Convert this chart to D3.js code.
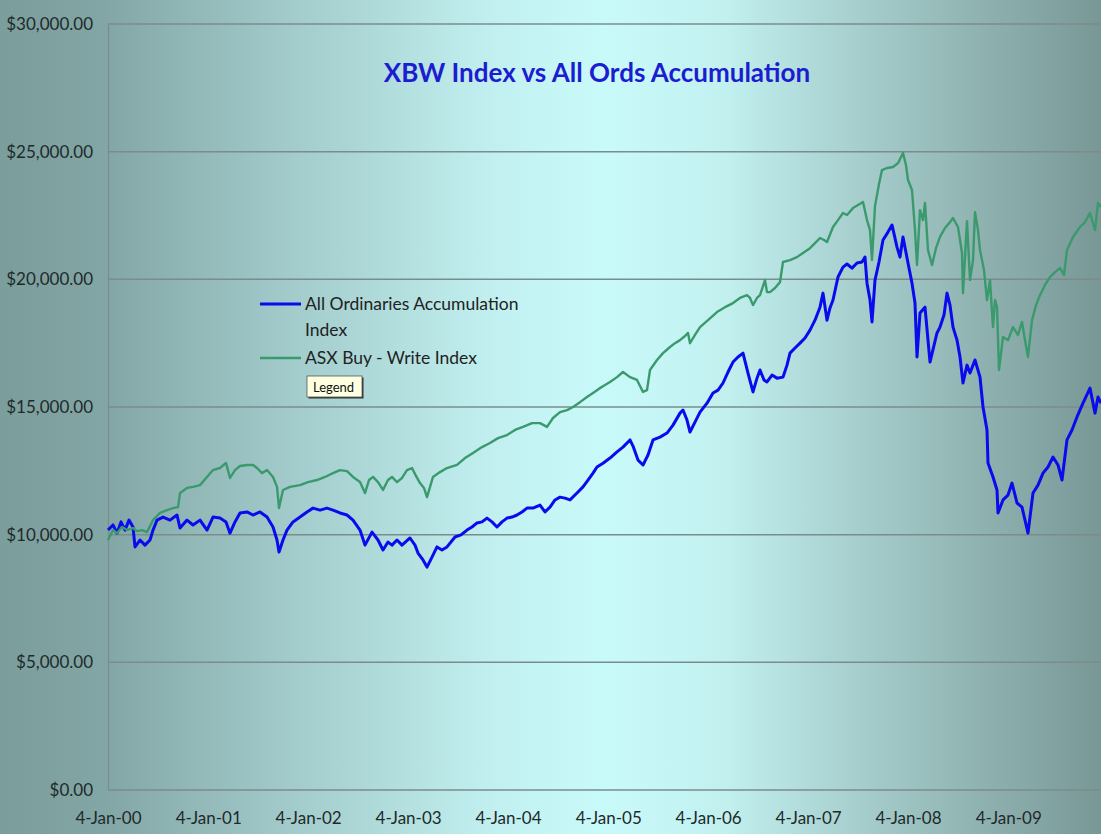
<!DOCTYPE html>
<html>
<head>
<meta charset="utf-8">
<script src="https://cdn.jsdelivr.net/npm/d3@7"></script>
<style>
  html, body { margin: 0; padding: 0; background: #9cc4c3; }
  svg { display: block; font-family: Lato, "Open Sans", sans-serif; }
</style>
</head>
<body>
<div id="chart"></div>
<script>
// decimal years, 0 = 4-Jan of that year
const ordsT = [
  2000.00, 2000.05, 2000.09, 2000.13, 2000.17, 2000.21, 2000.25, 2000.27, 2000.32, 2000.37,
  2000.42, 2000.45, 2000.49, 2000.55, 2000.62, 2000.69, 2000.72, 2000.79, 2000.85, 2000.92,
  2000.99, 2001.05, 2001.12, 2001.18, 2001.22, 2001.27, 2001.32, 2001.39, 2001.45, 2001.52,
  2001.59, 2001.65, 2001.69, 2001.71, 2001.75, 2001.79, 2001.85, 2001.92, 2001.99, 2002.05,
  2002.12, 2002.19, 2002.25, 2002.32, 2002.39, 2002.45, 2002.52, 2002.57, 2002.64, 2002.70,
  2002.75, 2002.80, 2002.84, 2002.89, 2002.94, 2003.02, 2003.07, 2003.10, 2003.15, 2003.19,
  2003.24, 2003.29, 2003.34, 2003.39, 2003.47, 2003.53, 2003.59, 2003.64, 2003.69, 2003.74,
  2003.79, 2003.84, 2003.89, 2003.94, 2003.99, 2004.04, 2004.09, 2004.14, 2004.19, 2004.25,
  2004.32, 2004.37, 2004.42, 2004.47, 2004.52, 2004.57, 2004.62, 2004.69, 2004.75, 2004.80,
  2004.85, 2004.89, 2004.95, 2005.02, 2005.09, 2005.15, 2005.22, 2005.25, 2005.30, 2005.35,
  2005.40, 2005.45, 2005.52, 2005.59, 2005.65, 2005.72, 2005.75, 2005.79, 2005.82, 2005.87,
  2005.92, 2005.99, 2006.05, 2006.10, 2006.15, 2006.20, 2006.25, 2006.30, 2006.35, 2006.40,
  2006.45, 2006.49, 2006.52, 2006.56, 2006.59, 2006.64, 2006.69, 2006.75, 2006.79, 2006.82,
  2006.87, 2006.92, 2006.97, 2007.02, 2007.07, 2007.12, 2007.15, 2007.19, 2007.22, 2007.25,
  2007.30, 2007.35, 2007.39, 2007.44, 2007.49, 2007.54, 2007.57, 2007.59, 2007.62, 2007.64,
  2007.67, 2007.71, 2007.75, 2007.80, 2007.84, 2007.89, 2007.92, 2007.95, 2008.00, 2008.04,
  2008.07, 2008.09, 2008.12, 2008.17, 2008.22, 2008.29, 2008.32, 2008.36, 2008.39, 2008.42,
  2008.45, 2008.49, 2008.52, 2008.55, 2008.59, 2008.62, 2008.67, 2008.72, 2008.75, 2008.79,
  2008.80, 2008.85, 2008.89, 2008.90, 2008.95, 2009.00, 2009.04, 2009.09, 2009.14, 2009.17,
  2009.20, 2009.25, 2009.30, 2009.35, 2009.40, 2009.45, 2009.50, 2009.54, 2009.59, 2009.64,
  2009.69, 2009.75, 2009.82, 2009.87, 2009.90, 2009.93
];
const ordsValues = [
  10180, 10380, 10060, 10500, 10180, 10570, 10300, 9520, 9790, 9590,
  9790, 10180, 10570, 10690, 10570, 10770, 10260, 10570, 10380, 10570,
  10180, 10690, 10650, 10500, 10060, 10500, 10850, 10890, 10770, 10890,
  10690, 10300, 9790, 9320, 9790, 10180, 10500, 10690, 10890, 11040,
  10960, 11040, 10960, 10850, 10770, 10570, 10180, 9590, 10100, 9790,
  9400, 9710, 9590, 9790, 9590, 9870, 9590, 9280, 9010, 8730,
  9120, 9520, 9400, 9520, 9910, 9990, 10180, 10300, 10460, 10500,
  10650, 10500, 10300, 10500, 10650, 10690, 10770, 10890, 11040, 11040,
  11160, 10890, 11080, 11360, 11470, 11430, 11360, 11630, 11870, 12140,
  12410, 12650, 12800, 13000, 13240, 13430, 13710, 13470, 12920, 12730,
  13120, 13710, 13820, 13980, 14290, 14760, 14880, 14490, 14020, 14410,
  14800, 15150, 15550, 15660, 15940, 16370, 16760, 16960, 17110, 16330,
  15590, 16130, 16450, 16060, 15980, 16250, 16130, 16170, 16640, 17110,
  17310, 17500, 17700, 18010, 18400, 18910, 19460, 18400, 18880, 19190,
  20090, 20480, 20600, 20440, 20640, 20680, 20870, 19850, 19190, 18330,
  19970, 20680, 21540, 21850, 22130, 21260, 20870, 21660, 20640, 19850,
  19070, 16960, 18680, 18910, 16760, 17900, 18130, 18600, 19460, 18990,
  18130, 17620, 16960, 15940, 16640, 16330, 16840, 16170, 15000, 14100,
  12810, 12260, 11750, 10850, 11360, 11550, 12020, 11240, 11080, 10570,
  10060, 11630, 11940, 12410, 12650, 13040, 12730, 12140, 13710, 14100,
  14610, 15150, 15740, 14760, 15390, 15150
];

const bwT = [
  2000.00, 2000.05, 2000.09, 2000.14, 2000.19, 2000.25, 2000.29, 2000.34, 2000.39, 2000.45,
  2000.52, 2000.59, 2000.65, 2000.70, 2000.72, 2000.79, 2000.85, 2000.92, 2000.99, 2001.05,
  2001.12, 2001.18, 2001.22, 2001.27, 2001.32, 2001.39, 2001.45, 2001.49, 2001.54, 2001.59,
  2001.65, 2001.69, 2001.71, 2001.75, 2001.82, 2001.92, 2002.00, 2002.09, 2002.17, 2002.25,
  2002.32, 2002.39, 2002.45, 2002.52, 2002.57, 2002.61, 2002.65, 2002.70, 2002.75, 2002.80,
  2002.84, 2002.89, 2002.94, 2002.99, 2003.04, 2003.08, 2003.12, 2003.16, 2003.19, 2003.25,
  2003.32, 2003.39, 2003.49, 2003.57, 2003.65, 2003.74, 2003.82, 2003.90, 2003.99, 2004.07,
  2004.15, 2004.24, 2004.32, 2004.39, 2004.45, 2004.52, 2004.59, 2004.65, 2004.72, 2004.79,
  2004.85, 2004.89, 2004.92, 2004.97, 2005.02, 2005.09, 2005.15, 2005.22, 2005.29, 2005.35,
  2005.39, 2005.42, 2005.49, 2005.55, 2005.62, 2005.67, 2005.72, 2005.77, 2005.80, 2005.82,
  2005.87, 2005.92, 2006.00, 2006.09, 2006.17, 2006.25, 2006.32, 2006.39, 2006.42, 2006.45,
  2006.49, 2006.52, 2006.57, 2006.59, 2006.62, 2006.67, 2006.72, 2006.75, 2006.82, 2006.89,
  2006.95, 2007.02, 2007.07, 2007.12, 2007.16, 2007.19, 2007.25, 2007.30, 2007.35, 2007.39,
  2007.45, 2007.50, 2007.55, 2007.59, 2007.62, 2007.64, 2007.67, 2007.71, 2007.74, 2007.79,
  2007.85, 2007.90, 2007.95, 2007.98, 2008.00, 2008.04, 2008.07, 2008.09, 2008.12, 2008.15,
  2008.17, 2008.20, 2008.24, 2008.28, 2008.32, 2008.37, 2008.42, 2008.45, 2008.50, 2008.54,
  2008.55, 2008.59, 2008.62, 2008.65, 2008.67, 2008.70, 2008.72, 2008.76, 2008.79, 2008.82,
  2008.85, 2008.87, 2008.89, 2008.91, 2008.95, 2009.00, 2009.05, 2009.10, 2009.14, 2009.17,
  2009.20, 2009.24, 2009.28, 2009.32, 2009.37, 2009.42, 2009.47, 2009.52, 2009.56, 2009.59,
  2009.65, 2009.72, 2009.77, 2009.82, 2009.87, 2009.90, 2009.93
];
const bwValues = [
  9790, 10180, 10060, 10300, 10180, 10260, 10140, 10180, 10100, 10570,
  10850, 10960, 11040, 11080, 11630, 11830, 11870, 11940, 12260, 12530,
  12610, 12810, 12220, 12530, 12690, 12730, 12730, 12610, 12410, 12530,
  12260, 11870, 11040, 11750, 11870, 11940, 12060, 12140, 12260, 12410,
  12530, 12490, 12260, 12060, 11630, 12140, 12260, 12060, 11750, 12140,
  12260, 12060, 12220, 12530, 12610, 12300, 12020, 11830, 11470, 12260,
  12450, 12610, 12730, 13000, 13200, 13430, 13590, 13780, 13900, 14100,
  14220, 14370, 14370, 14220, 14570, 14800, 14880, 15000, 15190, 15390,
  15550, 15660, 15740, 15860, 15980, 16170, 16370, 16170, 16060, 15590,
  15660, 16450, 16840, 17110, 17350, 17500, 17620, 17780, 17900, 17500,
  17820, 18130, 18400, 18720, 18910, 19070, 19270, 19380, 19270, 18990,
  19270, 19380, 19970, 19500, 19500, 19660, 19890, 20680, 20750, 20870,
  21030, 21220, 21420, 21620, 21540, 21460, 22050, 22320, 22600, 22520,
  22790, 22910, 23030, 22320, 21930, 20760, 22870, 23730, 24280, 24360,
  24400, 24550, 24950, 24470, 23890, 23500, 21930, 20560, 22710, 22320,
  22990, 21150, 20560, 21220, 21660, 22010, 22240, 22400, 22050, 21030,
  19460, 22280, 19970, 20750, 22630, 21930, 21150, 20360, 19190, 19970,
  18130, 19190, 18910, 16450, 17740, 17620, 18130, 17820, 18330, 17620,
  16960, 18400, 18990, 19380, 19780, 20090, 20280, 20440, 20170, 21150,
  21660, 22050, 22240, 22600, 21930, 22990, 22830
];

const yTicks = [0, 5000, 10000, 15000, 20000, 25000, 30000];
const xTickYears = [2000, 2001, 2002, 2003, 2004, 2005, 2006, 2007, 2008, 2009];
const seriesNames = ['All Ordinaries Accumulation Index', 'ASX Buy - Write Index'];
const chartTitle = 'XBW Index vs All Ords Accumulation';

const W = 1101, H = 834;
const plot = { left: 108, top: 24, right: 1108, bottom: 790 };

const start = Date.UTC(2000, 0, 4);
const toDate = t => new Date(start + (t - 2000) * 365.25 * 864e5);

const ords = ordsT.map((t, i) => ({ date: toDate(t), value: ordsValues[i] }));
const bw = bwT.map((t, i) => ({ date: toDate(t), value: bwValues[i] }));

const svg = d3.select('#chart').append('svg')
  .attr('width', W)
  .attr('height', H);

// background gradient
const grad = svg.append('defs').append('linearGradient')
  .attr('id', 'bg')
  .attr('x1', '0%').attr('x2', '100%')
  .attr('y1', '0%').attr('y2', '0%');
[
  [0, '#7b9d9c'], [0.1, '#83a7a6'], [0.25, '#a0c8c8'], [0.45, '#c2f0f0'],
  [0.55, '#c9fafa'], [0.66, '#c1f0ef'], [0.78, '#a6cecd'], [0.9, '#8db0ae'], [1, '#789896']
].forEach(([o, c]) => grad.append('stop').attr('offset', o).attr('stop-color', c));

svg.append('rect')
  .attr('width', W).attr('height', H)
  .attr('fill', 'url(#bg)');

const x = d3.scaleUtc()
  .domain([toDate(2000), toDate(2010)])
  .range([plot.left, plot.right]);

const y = d3.scaleLinear()
  .domain([0, 30000])
  .range([plot.bottom, plot.top]);

// gridlines
svg.append('g')
  .selectAll('line')
  .data(yTicks)
  .join('line')
  .attr('x1', plot.left)
  .attr('x2', plot.right)
  .attr('y1', d => y(d))
  .attr('y2', d => y(d))
  .attr('stroke', '#7b8c8c')
  .attr('stroke-width', 1.5);

// y axis
const yAxis = svg.append('g')
  .attr('transform', `translate(${plot.left},0)`)
  .call(d3.axisLeft(y).tickValues(yTicks).tickFormat(d3.format('$,.2f')).tickSize(0).tickPadding(15));
yAxis.select('.domain').attr('stroke', '#7b8c8c').attr('stroke-width', 1.2);
yAxis.selectAll('text')
  .attr('font-family', 'Lato, sans-serif')
  .attr('font-size', 17)
  .attr('fill', '#1e2a2a');

// x axis
const xAxis = svg.append('g')
  .attr('transform', `translate(0,${plot.bottom})`)
  .call(d3.axisBottom(x)
    .tickValues(xTickYears.map(yr => new Date(Date.UTC(yr, 0, 4))))
    .tickFormat(d3.utcFormat('%-d-%b-%y'))
    .tickSize(0).tickPadding(22));
xAxis.select('.domain').remove();
xAxis.selectAll('text')
  .attr('font-family', 'Lato, sans-serif')
  .attr('font-size', 17)
  .attr('fill', '#1e2a2a');

const line = d3.line()
  .x(d => x(d.date))
  .y(d => y(d.value));

svg.append('path')
  .datum(ords)
  .attr('fill', 'none')
  .attr('stroke', '#0a0aee')
  .attr('stroke-width', 3)
  .attr('stroke-linejoin', 'round')
  .attr('d', line);

svg.append('path')
  .datum(bw)
  .attr('fill', 'none')
  .attr('stroke', '#3b9a6d')
  .attr('stroke-width', 2.4)
  .attr('stroke-linejoin', 'round')
  .attr('d', line);

// title
svg.append('text')
  .attr('x', 597)
  .attr('y', 82)
  .attr('text-anchor', 'middle')
  .attr('font-size', 26)
  .attr('font-weight', 'bold')
  .attr('fill', '#1c1cd0')
  .text(chartTitle);

// legend
const legend = svg.append('g').attr('font-size', 17.5).attr('fill', '#1e2222');
legend.append('line')
  .attr('x1', 260).attr('x2', 301).attr('y1', 304).attr('y2', 304)
  .attr('stroke', '#0a0aee').attr('stroke-width', 3);
legend.append('text').attr('x', 305).attr('y', 310).text('All Ordinaries Accumulation');
legend.append('text').attr('x', 305).attr('y', 336).text('Index');
legend.append('line')
  .attr('x1', 260).attr('x2', 301).attr('y1', 358).attr('y2', 358)
  .attr('stroke', '#3b9a6d').attr('stroke-width', 2.4);
legend.append('text').attr('x', 305).attr('y', 364).text(seriesNames[1]);

// tooltip label
const tip = svg.append('g').attr('transform', 'translate(307,376)');
tip.append('rect').attr('x', 1.5).attr('y', 1.5).attr('width', 55).attr('height', 21).attr('fill', '#333');
tip.append('rect').attr('width', 55).attr('height', 21).attr('fill', '#ffffe1').attr('stroke', '#555').attr('stroke-width', 0.8);
tip.append('text').attr('x', 6).attr('y', 15.5).attr('font-size', 13).attr('fill', '#111').text('Legend');
</script>
</body>
</html>
